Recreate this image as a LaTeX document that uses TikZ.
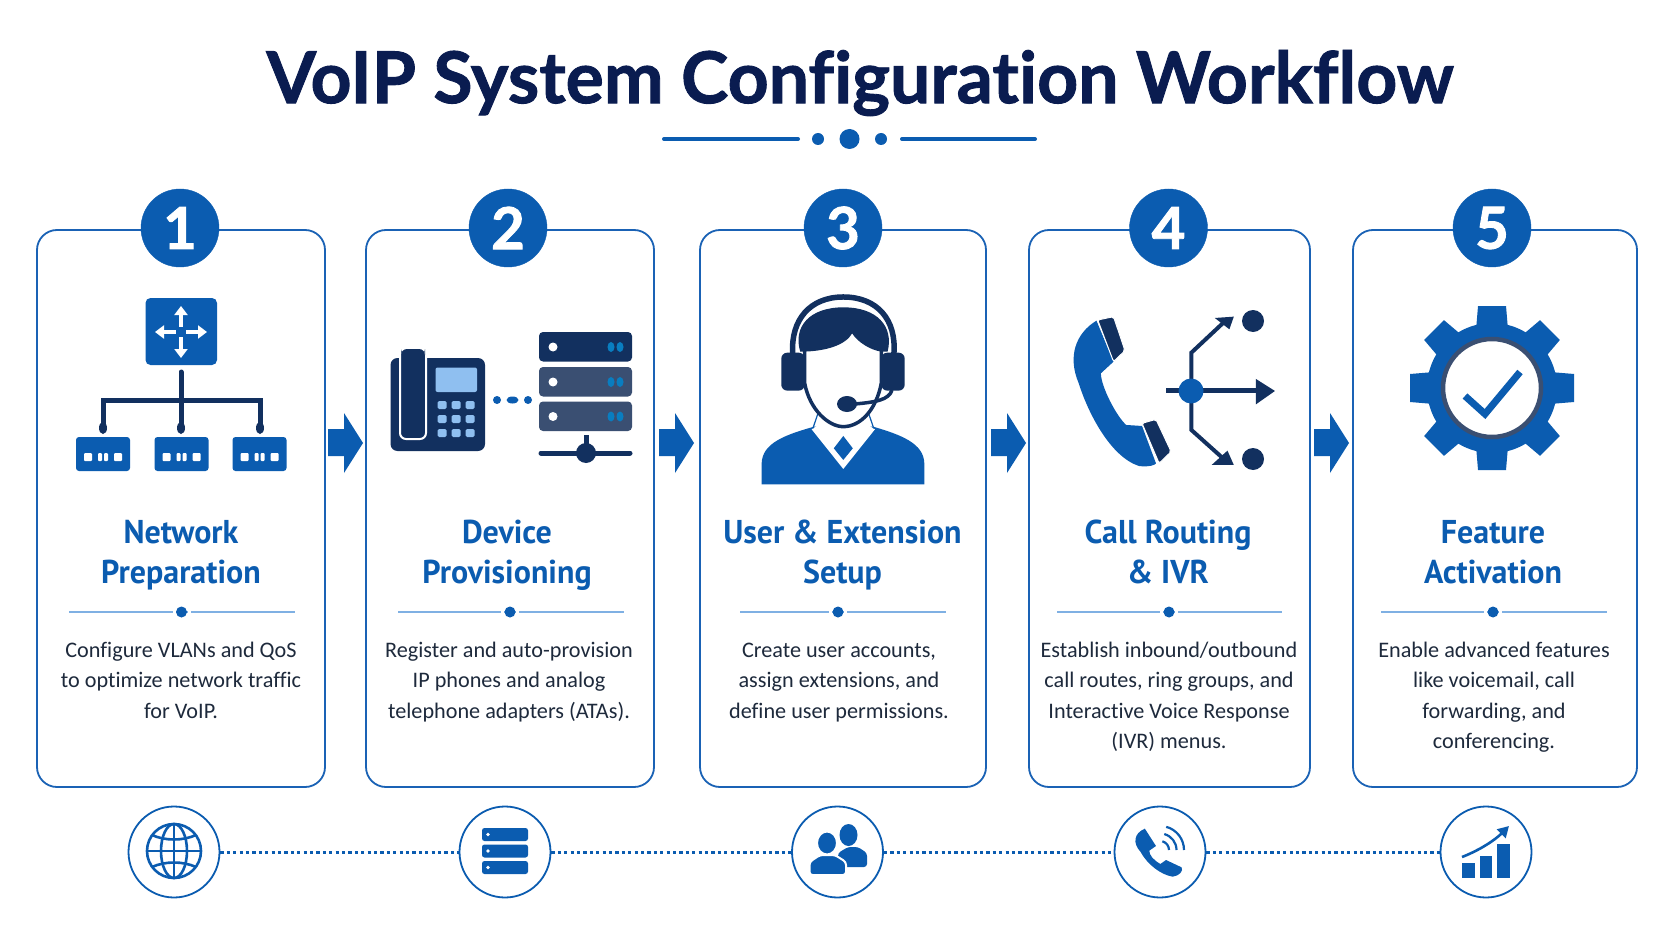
\documentclass[tikz,border=0pt]{standalone}
\usepackage{fontspec}
\usetikzlibrary{arrows.meta}
\setmainfont{Carlito}[Ligatures=NoCommon]
\newfontfamily\titlefont{Lato}[BoldFont={Lato Bold},Ligatures=NoCommon,BoldFeatures={FakeBold=1.2}]
\newfontfamily\headfont{PT Sans}[BoldFont={PT Sans Bold},Ligatures=NoCommon,FakeStretch=0.97]
\newfontfamily\numfont{Lato}[BoldFont={Lato Bold},BoldFeatures={FakeBold=1.5}]
\definecolor{navy}{HTML}{0A1C50}
\definecolor{blue1}{HTML}{0B5CB0}
\definecolor{lineb}{HTML}{1A62B5}
\definecolor{lightb}{HTML}{7FB0E3}
\definecolor{bodyc}{HTML}{1E2A3C}
\definecolor{dark}{HTML}{12305F}
\definecolor{srvb}{HTML}{3A4F72}
\definecolor{screen}{HTML}{8FBFF0}
\tikzset{
  card/.style={draw=lineb,line width=1.8pt,rounded corners=20pt,fill=white,inner sep=0pt},
  badge/.style={circle,fill=blue1,draw=blue1,text=white,minimum size=78pt,inner sep=0pt,font=\numfont\bfseries\fontsize{58}{58}\selectfont},
  heading/.style={align=center,text=blue1,inner sep=0pt,font=\headfont\bfseries\fontsize{33}{40}\selectfont},
  bodytext/.style={align=center,text=bodyc,inner sep=0pt,anchor=north,font=\fontsize{22.2}{30.6}\selectfont},
  footc/.style={circle,draw=blue1,line width=1.8pt,fill=white,minimum size=91pt,inner sep=0pt},
  dotline/.style={blue1,line width=3pt,dash pattern=on 3.2pt off 3.2pt},
  rule/.style={lightb,line width=1.8pt},
  flow/.style={fill=blue1},
  zoomA/.style={shift={(0,170)},x=0.4464pt,y=-0.3333pt},
  zoomB/.style={shift={(680,170)},x=0.6329pt,y=-0.3333pt},
  zoomC/.style={shift={(800,780)},x=0.5562pt,y=-0.3333pt},
}
\newcommand{\flowarrow}[4]{% x0, head start, tip, name
  \path[flow] (#1,429) -- (#2,429) -- (#2,413) -- (#3,443) -- (#2,473) -- (#2,456) -- (#1,456) -- cycle;}
\newcommand{\ruleline}[3]{\draw[rule] (#1,612) -- (#3,612); \fill[blue1] (#2,612) circle[radius=5.5];\fill[white] (#2-9,604) rectangle (#2-6,620);\fill[white] (#2+6,604) rectangle (#2+9,620);}
\newcommand{\smallbox}[1]{%
  \fill[blue1,rounded corners=3pt] (#1-27,437) rectangle (#1+27,471);
  \foreach \dx in {-15,15}{\fill[white,rounded corners=1pt] (#1+\dx-4,453) rectangle (#1+\dx+4,461);}
  \fill[white,rounded corners=1pt] (#1-5,453) rectangle (#1-1,461);
  \fill[white,rounded corners=1pt] (#1+1,453) rectangle (#1+5,461);}
\begin{document}
\begin{tikzpicture}[x=1pt,y=-1pt]
\useasboundingbox (0,0) rectangle (1672,941);
\fill[white] (0,0) rectangle (1672,941);
% title
\node[text=navy,inner sep=0pt,font=\titlefont\bfseries\fontsize{71.5}{80}\selectfont] (title) at (860,83) {VoIP System Configuration Workflow};
\draw[blue1,line width=4pt,line cap=round] (664,139) -- (798,139);
\draw[blue1,line width=4pt,line cap=round] (902,139) -- (1035,139);
\fill[blue1] (818,139) circle[radius=6];
\fill[blue1] (849.5,139) circle[radius=10];
\fill[blue1] (881,139) circle[radius=6];
% cards
\node[card,minimum width=288pt,minimum height=557pt] (c1) at (181,508.5) {};
\node[card,minimum width=288pt,minimum height=557pt] (c2) at (510,508.5) {};
\node[card,minimum width=286pt,minimum height=557pt] (c3) at (843,508.5) {};
\node[card,minimum width=281pt,minimum height=557pt] (c4) at (1169.5,508.5) {};
\node[card,minimum width=284pt,minimum height=557pt] (c5) at (1495,508.5) {};
% badges
\node[badge] (n1) at (180,228) {1};
\node[badge] (n2) at (508,228) {2};
\node[badge] (n3) at (843,228) {3};
\node[badge] (n4) at (1168.5,228) {4};
\node[badge] (n5) at (1492,228) {5};
% flow arrows
\flowarrow{328}{344}{363}{a1}
\flowarrow{659}{675}{694}{a2}
\flowarrow{991}{1007}{1026}{a3}
\flowarrow{1314}{1330}{1349}{a4}
% icon 1
\fill[blue1,rounded corners=5pt] (145.5,298) rectangle (217,365);
\foreach \ex/\ey in {181/306,181/358,155/332,207/332}{
  \draw[white,line width=3.5pt,-{Triangle[length=9pt,width=13pt]}] (181,332) ++ ({(\ex-181)*0.2},{(\ey-332)*0.2}) -- (\ex,\ey);}
\draw[dark,line width=5pt] (103,429) -- (103,400) -- (260,400) -- (260,429);
\draw[dark,line width=5pt,line cap=round] (181,372) -- (181,429);
\foreach \x in {103,181,260}{\fill[dark] (\x,428) ellipse[x radius=4,y radius=6];}
\smallbox{103}\smallbox{181.5}\smallbox{259.5}
% icon 2: phone
\fill[dark,rounded corners=7pt] (390.5,358) rectangle (485,451);
\draw[white,line width=2pt,fill=dark,rounded corners=6pt] (400,349) rectangle (426,439);
\fill[dark,rounded corners=6pt] (401,349) rectangle (425,355);
\fill[screen,rounded corners=2pt] (435.5,367.5) rectangle (477,392);
\foreach \kx in {442,456,470}\foreach \ky in {405,419,433}{\fill[screen,rounded corners=1.5pt] (\kx-4.5,\ky-4) rectangle (\kx+4.5,\ky+4);}
\fill[blue1] (497,400) circle[radius=4];
\fill[blue1] (512.5,400) ellipse[x radius=6,y radius=3.5];
\fill[blue1] (528,400) circle[radius=4];
% icon 2: server
\foreach \ty/\cc in {332/dark,367/srvb,401.5/srvb}{
  \fill[\cc,rounded corners=4pt] (539,\ty) rectangle (632,\ty+29.5);
  \fill[white] (553,\ty+15) circle[radius=4.5];
  \fill[blue1!80!cyan] (611,\ty+15) ellipse[x radius=3.5,y radius=5];
  \fill[blue1!80!cyan] (620,\ty+15) ellipse[x radius=3.5,y radius=5];
}
\draw[dark,line width=5pt] (586,435) -- (586,450);
\draw[dark,line width=5pt,line cap=round] (541,453) -- (630,453);
\fill[dark] (586,453) circle[radius=10];
% icon 3: agent
\begin{scope}[zoomB]
\fill[blue1] (129,943) -- (129,880) .. controls (130,820) and (165,795) .. (212,770) -- (305,770) .. controls (350,795) and (385,820) .. (386,880) -- (386,943) -- cycle;
\fill[white] (208,778) -- (258,897) -- (308,778) -- (280,745) -- (235,745) -- cycle;
\fill[blue1] (258,798) -- (273,835) -- (258,870) -- (243,835) -- cycle;
\draw[blue1,line width=1.2pt] (218,730) -- (210,775);
\draw[blue1,line width=1.2pt] (298,730) -- (306,775);
\draw[dark,line width=3.5pt,fill=white] (197,540) -- (197,640) .. controls (205,720) and (235,770) .. (258,770) .. controls (285,770) and (310,720) .. (318,640) -- (318,540);
\fill[dark] (190,545) .. controls (178,470) and (205,412) .. (258,412) .. controls (312,412) and (338,470) .. (328,545) -- (318,545) .. controls (300,540) and (280,515) .. (272,490) .. controls (262,525) and (230,545) .. (190,545) -- cycle;
\draw[dark,line width=5.5pt] (178,550) .. controls (175,450) and (205,381) .. (258,381) .. controls (312,381) and (342,450) .. (338,550);
\fill[dark,rounded corners=6pt] (160,548) rectangle (197,662);
\fill[dark,rounded corners=6pt] (318,548) rectangle (355,662);
\draw[dark,line width=3.5pt] (335,660) .. controls (330,690) and (310,697) .. (270,703);
\end{scope}
\fill[dark] (847,404) ellipse[x radius=10,y radius=8];
% icon 4: handset
\begin{scope}[zoomB]
\fill[blue1] (658,452) .. controls (625,490) and (612,560) .. (630,640) .. controls (645,730) and (680,860) .. (725,888) .. controls (740,892) and (752,885) .. (752,880) -- (730,768) -- (705,765) .. controls (690,740) and (665,650) .. (665,610) -- (685,575) -- cycle;
\fill[dark,draw=white,line width=1pt,rounded corners=2pt] (660,450) -- (685,440) -- (703,542) -- (685,575) -- cycle;
\fill[dark,draw=white,line width=1pt,rounded corners=2pt] (730,760) -- (752,748) -- (776,845) -- (757,880) -- cycle;
\draw[dark,line width=4pt] (808,663) -- (808,548) -- (862,452);
\draw[dark,line width=4pt] (808,663) -- (808,780) -- (862,872);
\fill[dark] (875,440) -- (845,444) -- (868,478) -- cycle;
\fill[dark] (875,885) -- (840,885) -- (865,842) -- cycle;
\draw[dark,line width=5pt] (768,663) -- (925,663);
\fill[dark] (940,663) -- (910,627) -- (910,703) -- cycle;
\end{scope}
\fill[blue1] (1191,391) circle[radius=12.5];
\fill[dark] (1253,321) circle[radius=11];
\fill[dark] (1253,459) circle[radius=11];
% icon 5: gear
\fill[blue1] (1492,388) circle[radius=65];
\foreach \a in {0,45,...,315}{
  \fill[blue1,rotate around={\a:(1492,388)}] (1476,330) -- (1478,306) -- (1506,306) -- (1508,330) -- cycle;}
\draw[srvb,line width=4.5pt,fill=white] (1492,388) circle[radius=49];
\draw[blue1,line width=7pt] (1465,396) -- (1485,414) -- (1520,372);
% headings
\node[heading] (h1) at (181,555) {Network\\Preparation};
\node[heading] (h2) at (507,555) {Device\\Provisioning};
\node[heading] (h3) at (842.5,555) {User \& Extension\\Setup};
\node[heading] (h4) at (1168,552) {Call Routing\\\& IVR};
\node[heading] (h5) at (1493,552) {Feature\\Activation};
% rules
\ruleline{69}{181.5}{295}
\ruleline{398}{510}{624}
\ruleline{740}{838}{946}
\ruleline{1057}{1169}{1282}
\ruleline{1381}{1493}{1607}
% body
\node[bodytext] (t1) at (181,641.5) {Configure VLANs and QoS\\to optimize network traffic\\for VoIP.};
\node[bodytext] (t2) at (509,641.5) {Register and auto-provision\\IP phones and analog\\telephone adapters (ATAs).};
\node[bodytext] (t3) at (839,642.5) {Create user accounts,\\assign extensions, and\\define user permissions.};
\node[bodytext] (t4) at (1169,641.5) {Establish inbound/outbound\\call routes, ring groups, and\\Interactive Voice Response\\(IVR) menus.};
\node[bodytext] (t5) at (1494,641.5) {Enable advanced features\\like voicemail, call\\forwarding, and\\conferencing.};
% footer
\node[footc] (f1) at (174,852) {};
\node[footc] (f2) at (505,852) {};
\node[footc] (f3) at (837.5,852) {};
\node[footc] (f4) at (1160,852) {};
\node[footc] (f5) at (1486,852) {};
\draw[dotline] (f1) -- (f2);
\draw[dotline] (f2) -- (f3);
\draw[dotline] (f3) -- (f4);
\draw[dotline] (f4) -- (f5);
% globe
\begin{scope}[blue1,line width=2.6pt]
\draw (174,851) circle[radius=27];
\draw (174,851) ellipse[x radius=13,y radius=27];
\draw (174,824) -- (174,878);
\draw (147,851) -- (201,851);
\draw (152,835) .. controls (165,841) and (183,841) .. (196,835);
\draw (152,867) .. controls (165,861) and (183,861) .. (196,867);
\end{scope}
% small server
\foreach \ty in {828,844.5,861}{
  \fill[blue1,rounded corners=2.5pt] (482,\ty) rectangle (528,\ty+13);
  \fill[white] (488,\ty+6.5) circle[radius=1.8];}
% people
\fill[blue1] (848.5,835) ellipse[x radius=9,y radius=11];
\fill[blue1,rounded corners=3pt] (838,867) -- (838,853) -- (848,847) -- (858,847) -- (867,853) -- (867,867) -- cycle;
\draw[white,line width=2pt,fill=blue1] (827,843) ellipse[x radius=10,y radius=11.5];
\draw[white,line width=2pt,fill=blue1,rounded corners=3pt] (809.5,875) -- (809.5,862) -- (820,855) -- (835,855) -- (846,862) -- (846,875) -- cycle;
% small phone
\begin{scope}[zoomC]
\fill[blue1] (620,146) .. controls (600,160) and (598,190) .. (612,215) .. controls (625,255) and (650,285) .. (670,290) .. controls (682,288) and (690,272) .. (686,262) -- (658,240) -- (648,252) .. controls (635,240) and (628,225) .. (628,212) -- (640,198) -- cycle;
\end{scope}
\foreach \r in {9,16.5,24}{\draw[blue1,line width=2.2pt] (1160,850) ++ (-75:\r) arc[start angle=-75,end angle=0,radius=\r];}
% chart
\fill[blue1] (1462,863) rectangle (1475,878);
\fill[blue1] (1480,856) rectangle (1492,878);
\fill[blue1] (1497,844) rectangle (1510,878);
\draw[blue1,line width=2.6pt,-{Triangle[length=11pt,width=12pt]}] (1462,857) .. controls (1480,850) and (1495,840) .. (1509,826);
\end{tikzpicture}
\end{document}
